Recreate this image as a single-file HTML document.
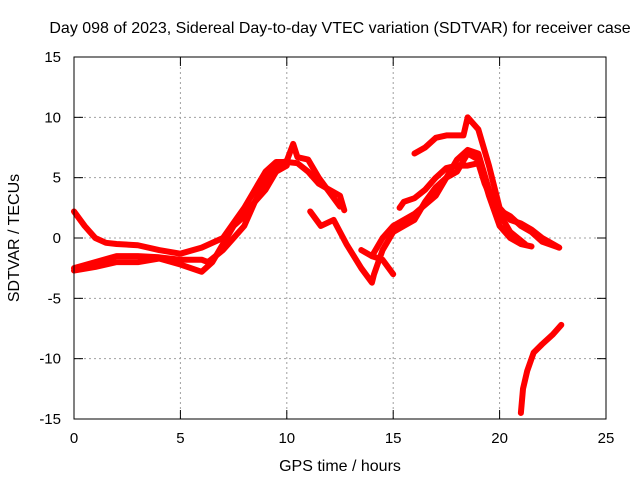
<!DOCTYPE html>
<html><head><meta charset="utf-8"><style>
body{margin:0;background:#fff}
svg{font-family:"Liberation Sans",sans-serif;font-size:15px}
</style></head><body>
<svg id="c" width="640" height="480" xmlns="http://www.w3.org/2000/svg">
<text x="340" y="33" text-anchor="middle" font-size="16">Day 098 of 2023, Sidereal Day-to-day VTEC variation (SDTVAR) for receiver case</text>
<text x="340" y="471" text-anchor="middle" font-size="16">GPS time / hours</text>
<text transform="translate(19,238) rotate(-90)" text-anchor="middle" font-size="16">SDTVAR / TECUs</text>
<g id="grid"></g>
<g id="ticks"></g>
<g id="series"></g>
<rect x="74" y="57" width="532" height="362" fill="none" stroke="#000" stroke-width="1"/>
</svg>
<script>
const xTicks=[0,5,10,15,20,25];
const yTicks=[-15,-10,-5,0,5,10,15];
const s1=[[0,2.2],[0.5,1],[1,0],[1.5,-0.4],[2,-0.5],[3,-0.6],[4,-1],[5,-1.3],[6,-0.8],[7,0],[7.6,1.5],[8,2.5],[8.5,4],[9,5.5],[9.5,6.3],[10,6.3],[10.5,6.2],[11,5.5],[11.5,4.5],[12,4],[12.5,3.5],[12.7,2.3]];
const s2=[[0,-2.5],[1,-2],[2,-1.5],[3,-1.5],[4,-1.6],[5,-1.8],[6,-1.8],[6.3,-2],[7,-1],[7.5,0],[8,1],[8.5,3],[9,4.8],[9.5,6],[10,6.4],[10.3,7.8],[10.5,6.7],[11,6.5],[11.5,5],[12,3.8],[12.5,2.6]];
const s3=[[0,-2.7],[1,-2.4],[2,-2],[3,-2],[4,-1.7],[5,-2.2],[6,-2.8],[6.5,-2],[7,-0.5],[7.5,1],[8,1.8],[8.5,3],[9,4],[9.5,5.5],[10,6]];
const s4=[[11.1,2.2],[11.6,1],[12.2,1.5],[12.8,-0.5],[13.5,-2.5],[14,-3.7],[14.1,-3],[14.5,-1],[15,0.5],[15.5,1],[16,1.5],[16.5,3],[17,4.2],[17.5,5],[18,5.5],[18.5,7],[19,6.5],[19.5,3.5],[20,1],[20.5,0],[21,-0.5],[21.5,-0.7]];
const s5=[[15.3,2.5],[15.5,3],[16,3.3],[16.5,4],[17,5],[17.5,5.8],[18,6],[18.5,6],[19,6.2],[19.3,4.5],[19.8,2.5],[20.5,1.8],[21,1],[21.5,0.5],[22,-0.3],[22.8,-0.8]];
const s6=[[16,7],[16.5,7.5],[17,8.3],[17.5,8.5],[18,8.5],[18.3,8.5],[18.5,10],[19,9],[19.5,6],[20,2.5],[20.5,1.5],[21,1.2],[21.5,0.7],[22,0],[22.5,-0.5],[22.8,-0.8]];
const s7=[[13.5,-1],[14,-1.5],[14.5,0],[15,1],[16,2],[17,3.5],[17.5,5],[18,6.5],[18.5,7.3],[19,7],[19.5,4],[20,2],[20.5,0.5],[21.2,-0.5]];
const s8=[[14,-1.5],[14.5,-1.8],[15,-3]];
const s9=[[21,-14.5],[21.1,-12.5],[21.3,-11],[21.6,-9.5],[22,-8.8],[22.5,-8],[22.9,-7.2]];
const allSeries=[s1,s2,s3,s4,s5,s6,s7,s8,s9];
const X=h=>74+h*(532/25), Y=v=>238-v*(362/30);
const NS="http://www.w3.org/2000/svg";
function mk(t,a,p){const e=document.createElementNS(NS,t);for(const k in a)e.setAttribute(k,a[k]);p.appendChild(e);return e;}
const grid=document.getElementById('grid'),ticks=document.getElementById('ticks'),ser=document.getElementById('series');
xTicks.forEach(t=>{const x=X(t);
 if(t>0&&t<25){const g=mk('line',{x1:x,x2:x,y1:57,y2:419,stroke:'#a0a0a0','stroke-dasharray':'2,3'},grid);
 
 }
 mk('line',{x1:x,x2:x,y1:419,y2:410,stroke:'#000'},ticks);mk('line',{x1:x,x2:x,y1:57,y2:66,stroke:'#000'},ticks);
 const l=mk('text',{x:x,y:443,'text-anchor':'middle'},ticks);l.textContent=t;
 
 });
yTicks.forEach(t=>{const y=Y(t);
 if(t>-15&&t<15){const g=mk('line',{x1:74,x2:606,y1:y,y2:y,stroke:'#a0a0a0','stroke-dasharray':'2,3'},grid);
 
 }
 mk('line',{x1:74,x2:83,y1:y,y2:y,stroke:'#000'},ticks);mk('line',{x1:597,x2:606,y1:y,y2:y,stroke:'#000'},ticks);
 const l=mk('text',{x:61,y:y+5,'text-anchor':'end'},ticks);l.textContent=t;
 
 });
allSeries.forEach((s,i)=>{
 const p=mk('polyline',{points:s.map(d=>X(d[0])+','+Y(d[1])).join(' '),fill:'none',stroke:'#ff0000','stroke-width':6,'stroke-linejoin':'round','stroke-linecap':'round'},ser);
 
 });
</script>
</body></html>
